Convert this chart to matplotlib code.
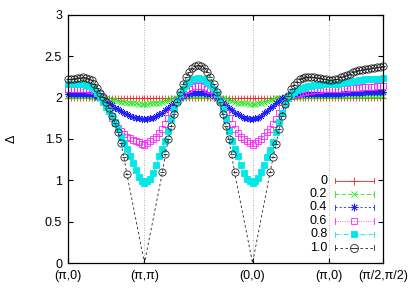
import numpy as np
import matplotlib.pyplot as plt
from matplotlib.path import Path

plt.rcParams["font.family"] = ["Liberation Sans", "DejaVu Sans"]
plt.rcParams["font.size"] = 9

# k-path (pi,0) -> (pi,pi) -> (0,0) -> (pi,0) -> (pi/2,pi/2), lengths in units of pi
seg_len = [1.0, np.sqrt(2), 1.0, np.sqrt(2) / 2]
seg_pts = [26, 36, 26, 18]
tick_labels = ["(π,0)", "(π,π)", "(0,0)", "(π,0)", "(π/2,π/2)"]

# gap values, one list per doping value (None = no point)
delta_00 = [
    2.00, 2.00, 2.00, 2.00, 2.00, 2.00, 2.00, 2.00, 2.00, 2.00, 2.00, 2.00, 2.00,
    2.00, 2.00, 2.00, 2.00, 2.00, 2.00, 2.00, 2.00, 2.00, 2.00, 2.00, 2.00, 2.00, 2.00,
    2.00, 2.00, 2.00, 2.00, 2.00, 2.00, 2.00, 2.00, 2.00, 2.00, 2.00, 2.00, 2.00, 2.00,
    2.00, 2.00, 2.00, 2.00, 2.00, 2.00, 2.00, 2.00, 2.00, 2.00, 2.00, 2.00, 2.00, 2.00,
    2.00, 2.00, 2.00, 2.00, 2.00, 2.00, 2.00, 2.00, 2.00, 2.00, 2.00, 2.00, 2.00, 2.00,
    2.00, 2.00, 2.00, 2.00, 2.00, 2.00, 2.00, 2.00, 2.00, 2.00, 2.00, 2.00, 2.00, 2.00,
    2.00, 2.00, 2.00, 2.00, 2.00, 2.00, 2.00, 2.00, 2.00, 2.00, 2.00, 2.00, 2.00, 2.00,
    2.00, 2.00, 2.00, 2.00, 2.00, 2.00, 2.00, 2.00, 2.00, 2.00,
]
delta_02 = [
    2.02, 2.02, 2.02, 2.02, 2.02, 2.02, 2.02, 2.02, 2.01, 2.01, 2.00, 2.00, 1.99,
    1.99, 1.98, 1.97, 1.97, 1.96, 1.95, 1.95, 1.94, 1.94, 1.93, 1.93, 1.92, 1.92, 1.92,
    1.92, 1.93, 1.93, 1.94, 1.94, 1.95, 1.96, 1.97, 1.98, 1.99, 2.00, 2.00, 2.01, 2.01,
    2.02, 2.02, 2.02, 2.02, 2.02, 2.02, 2.02, 2.01, 2.01, 2.00, 2.00, 1.99, 1.98, 1.97,
    1.96, 1.95, 1.94, 1.94, 1.93, 1.93, 1.92, 1.92,
    1.92, 1.93, 1.94, 1.95, 1.96, 1.97, 1.98, 1.99, 2.00, 2.00, 2.01, 2.01, 2.01,
    2.01, 2.01, 2.02, 2.02, 2.02, 2.02, 2.02, 2.02, 2.02, 2.02, 2.02, 2.02, 2.02,
    2.02, 2.02, 2.02, 2.02, 2.02, 2.02, 2.02, 2.02, 2.02, 2.02, 2.02, 2.02, 2.02, 2.02,
    2.02, 2.02, 2.02, 2.02,
]
delta_04 = [
    2.05, 2.05, 2.05, 2.05, 2.05, 2.05, 2.05, 2.04, 2.04, 2.03, 2.01, 1.99, 1.97,
    1.95, 1.93, 1.91, 1.88, 1.86, 1.84, 1.82, 1.80, 1.78, 1.77, 1.76, 1.75, 1.74, 1.74,
    1.74, 1.75, 1.76, 1.78, 1.80, 1.82, 1.85, 1.88, 1.91, 1.94, 1.97, 2.00, 2.02, 2.04,
    2.05, 2.06, 2.06, 2.06, 2.06, 2.06, 2.05, 2.04, 2.02, 2.00, 1.97, 1.94, 1.91, 1.88,
    1.85, 1.82, 1.80, 1.78, 1.76, 1.75, 1.74, 1.74,
    1.75, 1.76, 1.78, 1.81, 1.84, 1.87, 1.90, 1.93, 1.96, 1.99, 2.01, 2.02, 2.03,
    2.03, 2.03, 2.04, 2.04, 2.04, 2.04, 2.04, 2.04, 2.05, 2.05, 2.05, 2.05, 2.05,
    2.05, 2.05, 2.05, 2.05, 2.06, 2.06, 2.06, 2.06, 2.06, 2.06, 2.06, 2.07, 2.07, 2.07,
    2.07, 2.07, 2.07, 2.07,
]
delta_06 = [
    2.10, 2.10, 2.10, 2.10, 2.10, 2.10, 2.10, 2.09, 2.09, 2.08, 2.06, 2.04, 2.00,
    1.93, 1.85, 1.76, 1.69, 1.63, 1.60, 1.56, 1.53, 1.51, 1.49, 1.47, 1.46, 1.44, 1.43,
    1.45, 1.47, 1.50, 1.53, 1.57, 1.62, 1.68, 1.75, 1.82, 1.90, 1.97, 2.02, 2.06, 2.09,
    2.11, 2.13, 2.14, 2.14, 2.14, 2.13, 2.11, 2.09, 2.06, 2.02, 1.97, 1.90, 1.82, 1.75,
    1.68, 1.62, 1.57, 1.53, 1.50, 1.47, 1.45, 1.43,
    1.45, 1.47, 1.50, 1.54, 1.58, 1.62, 1.68, 1.74, 1.81, 1.88, 1.94, 1.99, 2.02,
    2.04, 2.05, 2.06, 2.07, 2.07, 2.08, 2.08, 2.09, 2.09, 2.09, 2.10, 2.10, 2.10,
    2.10, 2.10, 2.10, 2.11, 2.11, 2.11, 2.12, 2.12, 2.12, 2.12, 2.13, 2.13, 2.13, 2.13,
    2.13, 2.14, 2.14, 2.14,
]
delta_08 = [
    2.16, 2.16, 2.16, 2.16, 2.16, 2.16, 2.15, 2.14, 2.13, 2.10, 2.06, 2.01, 1.95,
    1.89, 1.84, 1.78, 1.71, 1.62, 1.53, 1.45, 1.38, 1.29, 1.21, 1.12, 1.04, 0.99, 0.97,
    0.99, 1.02, 1.09, 1.19, 1.29, 1.38, 1.48, 1.60, 1.74, 1.86, 1.96, 2.04, 2.10, 2.15,
    2.19, 2.22, 2.23, 2.24, 2.23, 2.22, 2.19, 2.15, 2.10, 2.04, 1.96, 1.86, 1.74, 1.60,
    1.48, 1.38, 1.29, 1.19, 1.09, 1.02, 0.99, 0.97,
    0.99, 1.03, 1.10, 1.18, 1.28, 1.37, 1.46, 1.58, 1.70, 1.82, 1.92, 1.99, 2.04,
    2.07, 2.09, 2.11, 2.12, 2.13, 2.14, 2.14, 2.15, 2.15, 2.15, 2.16, 2.16, 2.16,
    2.16, 2.17, 2.17, 2.18, 2.18, 2.19, 2.19, 2.20, 2.20, 2.21, 2.21, 2.22, 2.22, 2.22,
    2.23, 2.23, 2.23, 2.24,
]
delta_10 = [
    2.22, 2.22, 2.23, 2.24, 2.24, 2.25, 2.24, 2.23, 2.21, 2.17, 2.12, 2.06, 2.01,
    1.95, 1.87, 1.78, 1.69, 1.59, 1.45, 1.28, 1.08, None, None, None, None, None, 0.00,
    None, None, None, None, None, 1.10, 1.32, 1.50, 1.66, 1.80, 1.95, 2.07, 2.17, 2.25,
    2.31, 2.36, 2.38, 2.39, 2.38, 2.36, 2.31, 2.25, 2.17, 2.07, 1.95, 1.80, 1.66, 1.50,
    1.32, 1.10, None, None, None, None, None, 0.00,
    None, None, None, None, None, 1.10, 1.28, 1.44, 1.62, 1.78, 1.92, 2.02, 2.10,
    2.15, 2.19, 2.22, 2.24, 2.25, 2.25, 2.25, 2.25, 2.24, 2.24, 2.23, 2.22, 2.21,
    2.21, 2.22, 2.23, 2.25, 2.26, 2.28, 2.29, 2.31, 2.32, 2.33, 2.34, 2.35, 2.35, 2.36,
    2.36, 2.37, 2.37, 2.38,
]
labels = ["0", "0.2", "0.4", "0.6", "0.8", "1.0"]


def main():
    # positions of the k-points along the path
    k_path = [0.0]
    start = 0.0
    for length, n in zip(seg_len, seg_pts):
        k_path.extend(np.linspace(start, start + length, n + 1)[1:])
        start += length
    k_path = np.array(k_path)
    tick_pos = np.concatenate([[0.0], np.cumsum(seg_len)])

    # gnuplot-like circle with a bar through it
    theta_marker = Path.make_compound_path(
        Path.unit_circle(),
        Path([[-0.6, 0.0], [0.6, 0.0]], [Path.MOVETO, Path.LINETO]),
    )

    styles = [
        dict(color="#ff2020", marker="+", ms=5, ls="-", fill=False),
        dict(color="#20e820", marker="x", ms=4, ls=(0, (5, 2.5)), fill=False),
        dict(color="#2020ff", marker=(8, 2, 0), ms=5, ls=(0, (2.5, 2.5)), fill=False),
        dict(color="#ff20ff", marker="s", ms=4.5, ls=(0, (1, 1.8)), fill=False),
        dict(color="#00e8e8", marker="s", ms=4.2, ls=(0, (5, 2, 1, 2)), fill=True),
        dict(color="#202020", marker=theta_marker, ms=5.2, ls=(0, (3, 3)), fill=False),
    ]
    series = [delta_00, delta_02, delta_04, delta_06, delta_08, delta_10]

    fig = plt.figure(figsize=(4.15, 2.9), dpi=100)
    ax = fig.add_axes([0.1639, 0.0931, 0.7590, 0.8552])

    for values, st in zip(series, styles):
        y = np.array([np.nan if v is None else v for v in values], dtype=float)
        ok = ~np.isnan(y)
        ax.plot(k_path[ok], y[ok], color=st["color"], lw=0.6, ls=st["ls"])
        pts = ok & (y > 0.05)
        ax.plot(
            k_path[pts], y[pts], ls="none", marker=st["marker"], ms=st["ms"],
            mec=st["color"], mfc=st["color"] if st["fill"] else "none",
            mew=0.6, clip_on=False,
        )

    # legend drawn by hand, gnuplot style: label on the left, sample on the right
    for i, (label, st) in enumerate(zip(labels, styles)):
        yy = 0.332 - i * 0.054
        ax.text(0.823, yy, label, transform=ax.transAxes, ha="right", va="center")
        ax.plot([0.848, 0.971], [yy, yy], transform=ax.transAxes, color=st["color"],
                lw=0.6, ls=st["ls"], clip_on=False)
        for xc in (0.848, 0.971):
            ax.plot([xc, xc], [yy - 0.011, yy + 0.011], transform=ax.transAxes,
                    color=st["color"], lw=0.6, clip_on=False)
        ax.plot([0.9095], [yy], transform=ax.transAxes, ls="none", marker=st["marker"],
                ms=st["ms"] + 0.5, mec=st["color"],
                mfc=st["color"] if st["fill"] else "none", mew=0.6, clip_on=False)

    ax.set_xlim(tick_pos[0], tick_pos[-1])
    ax.set_ylim(0, 3)
    ax.set_xticks(tick_pos)
    ax.set_xticklabels(tick_labels)
    ax.set_yticks([0, 0.5, 1, 1.5, 2, 2.5, 3])
    ax.set_yticklabels(["0", "0.5", "1", "1.5", "2", "2.5", "3"])
    ax.tick_params(direction="in", top=True, right=True, length=3.6, width=0.8)
    ax.tick_params(axis="x", pad=5)
    ax.tick_params(axis="y", pad=4.3)
    ax.xaxis.grid(True, ls=(0, (1, 2)), color="#9a9a9a", lw=0.6)
    for spine in ax.spines.values():
        spine.set_linewidth(0.9)

    ax.set_ylabel("Δ")
    ax.yaxis.set_label_coords(-0.16, 0.5)

    fig.savefig("out.png", dpi=100)


if __name__ == "__main__":
    main()
